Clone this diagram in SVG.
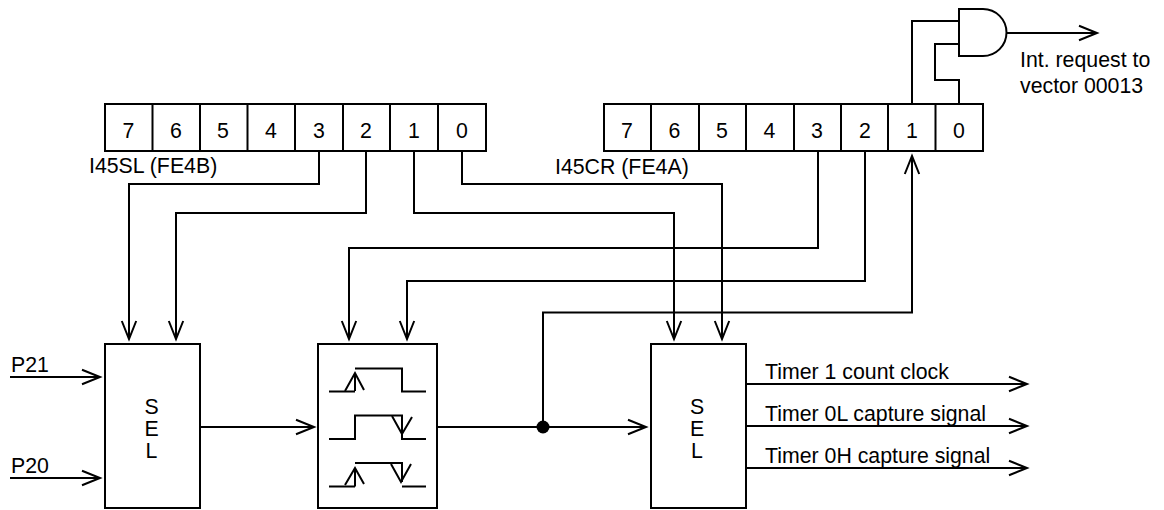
<svg xmlns="http://www.w3.org/2000/svg" width="1164" height="510" viewBox="0 0 1164 510">
<style>
text{font-family:"Liberation Sans",Arial,sans-serif;font-size:21.3px;fill:#000}
.m{text-anchor:middle}
rect,.l{fill:none;stroke:#000;stroke-width:2}
.a{marker-end:url(#a)}
</style>
<defs>
<marker id="a" markerUnits="userSpaceOnUse" markerWidth="20" markerHeight="20" refX="18" refY="10" orient="auto" overflow="visible">
<path d="M0 2.800L18 10L0 17.200" fill="none" stroke="#000" stroke-width="2"/>
</marker>
</defs>
<rect width="1164" height="510" style="fill:#fff;stroke:none"/>
<g id="reg-i45sl">
<rect x="105" y="104" width="381" height="47"/>
<path class="l" d="M152.500 104V151M200 104V151M247.500 104V151M295 104V151M343 104V151M390 104V151M438 104V151"/>
<text class="m" x="128.500" y="138">7</text><text class="m" x="176" y="138">6</text><text class="m" x="223" y="138">5</text><text class="m" x="271" y="138">4</text><text class="m" x="319" y="138">3</text><text class="m" x="366" y="138">2</text><text class="m" x="414" y="138">1</text><text class="m" x="462" y="138">0</text>
<text x="89" y="173">I45SL (FE4B)</text>
</g>
<g id="reg-i45cr">
<rect x="604" y="104" width="379" height="47"/>
<path class="l" d="M651 104V151M699 104V151M746 104V151M794 104V151M841 104V151M888 104V151M935.500 104V151"/>
<text class="m" x="627" y="138">7</text><text class="m" x="674.500" y="138">6</text><text class="m" x="722" y="138">5</text><text class="m" x="769.500" y="138">4</text><text class="m" x="817" y="138">3</text><text class="m" x="865" y="138">2</text><text class="m" x="912" y="138">1</text><text class="m" x="959" y="138">0</text>
<text x="555" y="174">I45CR (FE4A)</text>
</g>
<g id="and-gate">
<path class="l" d="M959 9H983A23.500 23.500 0 0 1 983 56H959Z"/>
</g>
<g id="sel-1">
<rect x="105" y="344" width="95" height="164"/>
<text class="m"><tspan x="151.500" y="414">S</tspan><tspan x="151.500" y="436">E</tspan><tspan x="151.500" y="458">L</tspan></text>
</g>
<g id="edge-detector">
<rect x="318" y="344" width="119" height="164"/>
<path class="l" d="M329 391.500H355M355 368.500H402V391.500H426"/>
<path class="l" d="M345 391L355 373L364 390M355 373V391"/>
<path class="l" d="M329 439H355V415.500H402V439H426"/>
<path class="l" d="M392 416L402 434L412 417"/>
<path class="l" d="M329 486.500H355M355 463H402V482M402 486.500H426"/>
<path class="l" d="M345 485L355 468L364 484M355 468V486.500"/>
<path class="l" d="M391 464L401 482L411 464"/>
</g>
<g id="sel-2">
<rect x="651" y="344" width="95" height="164"/>
<text class="m"><tspan x="697" y="414">S</tspan><tspan x="697" y="436">E</tspan><tspan x="697" y="458">L</tspan></text>
</g>
<g id="connectors">
<path class="l a" d="M319 151V184H129V339"/>
<path class="l a" d="M366 151V213H176V339"/>
<path class="l a" d="M414 151V213H674V339"/>
<path class="l a" d="M462 151V184H722V339"/>
<path class="l a" d="M818 151V248H349V339"/>
<path class="l a" d="M865 151V281H407V339"/>
<path class="l a" d="M543 427V312.500H912V156"/>
<path class="l" d="M912 104V21H959M959 104V80H935V44H959"/>
<path class="l a" d="M1007 33H1097"/>
<path class="l a" d="M10 377H100"/>
<path class="l a" d="M10 478H100"/>
<path class="l a" d="M200 427H314"/>
<path class="l a" d="M437 427H646"/>
<circle cx="543" cy="427" r="6.500" fill="#000"/>
<path class="l a" d="M746 384H1027"/>
<path class="l a" d="M746 426H1027"/>
<path class="l a" d="M746 468H1027"/>
</g>
<g id="labels">
<text x="1020" y="67">Int. request to</text>
<text x="1020" y="93">vector 00013</text>
<text x="11" y="372">P21</text>
<text x="11" y="473">P20</text>
<text x="765" y="379">Timer 1 count clock</text>
<text x="765" y="421">Timer 0L capture signal</text>
<text x="765" y="463">Timer 0H capture signal</text>
</g>
</svg>
